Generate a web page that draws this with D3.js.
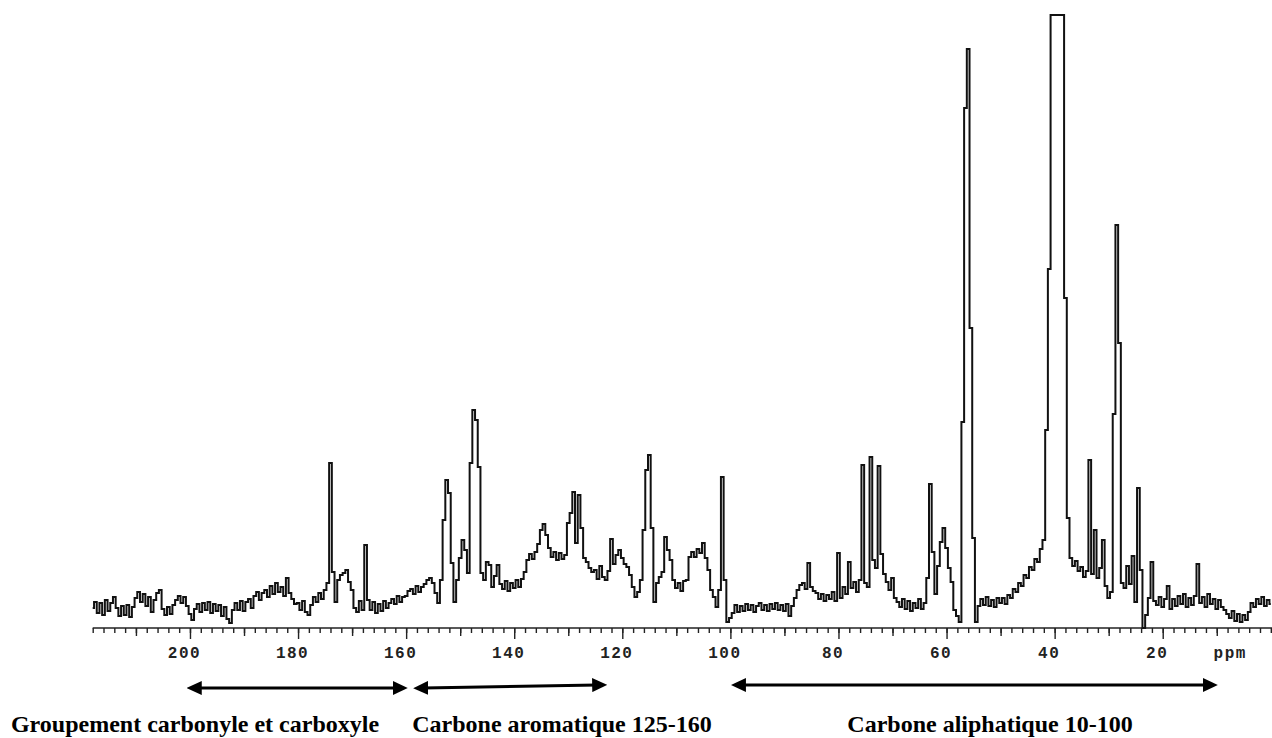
<!DOCTYPE html>
<html>
<head>
<meta charset="utf-8">
<script src="https://cdn.jsdelivr.net/npm/d3@7"></script>
<style>
body { margin: 0; background: #fff; }
svg { display: block; }
</style>
</head>
<body>
<div id="chartArea"></div>
<script>
var w = 1272, h = 738;

// 13C spectrum, one reading every 0.5 ppm, intensity in arbitrary units
// each block starts at the ppm given in blockStarts
var ppmStep = 0.5;
var blockStarts = [218, 200, 180, 160, 140, 120, 100, 80, 60, 40, 20];

var signal218 = [20, 26, 15, 25, 13, 28, 17, 25, 31, 20,
    12, 22, 13, 23, 11, 21, 30, 36, 26, 34,
    22, 31, 16, 28, 35, 38, 19, 13, 21, 14,
    23, 28, 32, 25, 31, 22];
var signal200 = [14, 8, 19, 24, 16, 25, 18, 26, 15, 24,
    17, 23, 12, 21, 9, 5, 18, 25, 18, 27,
    17, 26, 29, 20, 32, 36, 28, 35, 38, 31,
    42, 34, 45, 36, 41, 32, 50, 35, 29, 24];
var signal180 = [25, 18, 27, 16, 13, 23, 31, 26, 35, 29,
    38, 45, 165, 56, 26, 48, 53, 55, 58, 46,
    38, 20, 16, 27, 18, 83, 28, 18, 26, 15,
    24, 17, 27, 20, 25, 29, 24, 32, 26, 31];
var signal160 = [32, 37, 39, 34, 42, 36, 41, 44, 48, 50,
    45, 35, 25, 48, 108, 148, 135, 65, 26, 48,
    70, 88, 78, 55, 165, 218, 208, 161, 55, 48,
    66, 63, 41, 52, 63, 44, 39, 47, 37, 45];
var signal140 = [40, 48, 41, 49, 56, 68, 74, 69, 76, 84,
    98, 104, 93, 80, 71, 76, 68, 75, 69, 73,
    105, 115, 136, 85, 133, 100, 70, 66, 60, 56,
    58, 49, 62, 51, 48, 57, 89, 64, 73, 78];
var signal120 = [70, 64, 61, 53, 41, 31, 36, 48, 98, 158,
    173, 100, 26, 45, 51, 56, 91, 78, 68, 48,
    40, 45, 37, 47, 48, 71, 76, 71, 79, 75,
    85, 70, 58, 38, 31, 21, 38, 151, 48, 6];
var signal100 = [10, 15, 23, 16, 22, 17, 24, 18, 23, 16,
    22, 25, 18, 23, 17, 24, 19, 25, 18, 23,
    17, 24, 12, 22, 30, 38, 43, 45, 39, 65,
    41, 37, 35, 29, 34, 27, 33, 29, 36, 27];
var signal80 = [75, 30, 41, 34, 66, 40, 46, 36, 48, 163,
    45, 41, 171, 68, 60, 162, 74, 54, 46, 38,
    50, 30, 26, 21, 29, 19, 27, 17, 25, 20,
    29, 19, 25, 50, 144, 76, 34, 62, 86, 100];
var signal60 = [80, 60, 46, 18, 12, 6, 206, 520, 579, 300,
    90, 6, 22, 29, 23, 31, 22, 28, 21, 30,
    25, 30, 24, 33, 30, 39, 36, 45, 42, 53,
    50, 61, 58, 69, 66, 79, 88, 198, 359, 613];
var signal40 = [613, 613, 613, 613, 330, 110, 70, 62, 67, 57,
    61, 51, 57, 168, 54, 98, 50, 60, 88, 42,
    30, 36, 214, 403, 285, 45, 40, 62, 44, 72,
    26, 140, 58, 0, 13, 30, 66, 27, 23, 31];
var signal20 = [21, 29, 42, 19, 29, 22, 32, 24, 34, 21,
    30, 23, 32, 64, 25, 31, 21, 34, 24, 29,
    19, 28, 21, 18, 14, 10, 17, 7, 14, 6,
    13, 8, 16, 25, 21, 29, 24, 31, 22, 28,
    24];

var tickLabels = [200, 180, 160, 140, 120, 100, 80, 60, 40, 20];
var midTicks = [210, 190, 170, 150, 130, 110, 90, 70, 50, 30, 10];

// shift ranges of the three carbon families (ppm at arrow tips)
var regionNames = ['Groupement carbonyle et carboxyle', 'Carbone aromatique 125-160', 'Carbone aliphatique 10-100'];
var regionFrom = [200.6, 158.7, 99.9];
var regionTo = [159.7, 122.8, 9.8];

var blocks = [signal218, signal200, signal180, signal160, signal140, signal120,
    signal100, signal80, signal60, signal40, signal20];

var spectrum = [];
blocks.forEach(function (vals, b) {
    vals.forEach(function (v, i) {
        spectrum.push({ppm: blockStarts[b] - i * ppmStep, value: v});
    });
});

var svg = d3.select('#chartArea').append('svg')
    .attr('width', w)
    .attr('height', h);

var xScale = d3.scaleLinear()
    .domain([218, 0])
    .range([92.7, 1270.8]);

var yScale = d3.scaleLinear()
    .domain([0, 613])
    .range([628, 15]);

var axisY = 628;

// minor ticks every 2 ppm, carries the axis line
var minorTicks = d3.range(218, -1, -2);
svg.append('g')
    .attr('transform', 'translate(0,' + axisY + ')')
    .call(d3.axisBottom(xScale).tickValues(minorTicks).tickSize(5).tickSizeOuter(0).tickFormat(''))
    .call(function (g) {
        g.select('.domain').attr('stroke', '#222').attr('stroke-width', 1.6)
            .attr('d', 'M92.7,0H1272');
    });

svg.append('g')
    .attr('transform', 'translate(0,' + axisY + ')')
    .call(d3.axisBottom(xScale).tickValues(midTicks).tickSize(8).tickFormat(''))
    .call(function (g) { g.select('.domain').remove(); });

var major = svg.append('g')
    .attr('transform', 'translate(0,' + axisY + ')')
    .call(d3.axisBottom(xScale).tickValues(tickLabels).tickSize(11))
    .call(function (g) { g.select('.domain').remove(); });

svg.selectAll('.tick line').attr('stroke', '#222').attr('stroke-width', 1.4);

major.selectAll('text')
    .attr('x', -6)
    .attr('y', 30)
    .attr('dy', null)
    .attr('fill', '#222')
    .style('font-family', '"Liberation Mono", "Courier New", monospace')
    .style('font-size', '16px')
    .style('font-weight', 'bold')
    .style('letter-spacing', '1.5px');

svg.append('text')
    .attr('x', xScale(7.5))
    .attr('y', axisY + 30)
    .attr('text-anchor', 'middle')
    .attr('fill', '#222')
    .style('font-family', '"Liberation Mono", "Courier New", monospace')
    .style('font-size', '16px')
    .style('font-weight', 'bold')
    .style('letter-spacing', '1.5px')
    .text('ppm');

// spectrum trace
var line = d3.line()
    .x(function (d) { return xScale(d.ppm); })
    .y(function (d) { return yScale(d.value); })
    .curve(d3.curveStep);

svg.append('path')
    .datum(spectrum)
    .attr('d', line)
    .attr('fill', 'none')
    .attr('stroke', '#111')
    .attr('stroke-width', 2)
    .attr('stroke-linejoin', 'miter');

// double arrows under the axis
svg.append('defs').append('marker')
    .attr('id', 'head')
    .attr('viewBox', '0 0 15 14')
    .attr('refX', 5)
    .attr('refY', 7)
    .attr('markerWidth', 15)
    .attr('markerHeight', 14)
    .attr('markerUnits', 'userSpaceOnUse')
    .attr('orient', 'auto-start-reverse')
    .append('path')
    .attr('d', 'M0,0L15,7L0,14Z')
    .attr('fill', '#000');

var arrowLeftY = [688, 688, 685];
var arrowRightY = [688, 685, 685];
var labelCenters = [195, 562, 990];

svg.selectAll('.region-arrow')
    .data(regionNames)
    .enter()
    .append('line')
    .attr('class', 'region-arrow')
    .attr('x1', function (d, i) { return xScale(regionFrom[i]) + 10; })
    .attr('x2', function (d, i) { return xScale(regionTo[i]) - 10; })
    .attr('y1', function (d, i) { return arrowLeftY[i]; })
    .attr('y2', function (d, i) { return arrowRightY[i]; })
    .attr('stroke', '#000')
    .attr('stroke-width', 3)
    .attr('marker-start', 'url(#head)')
    .attr('marker-end', 'url(#head)');

svg.selectAll('.region-label')
    .data(regionNames)
    .enter()
    .append('text')
    .attr('class', 'region-label')
    .attr('x', function (d, i) { return labelCenters[i]; })
    .attr('y', 732)
    .attr('text-anchor', 'middle')
    .style('font-family', '"Liberation Serif", "Times New Roman", serif')
    .style('font-size', '24px')
    .style('font-weight', 'bold')
    .text(function (d) { return d; });
</script>
</body>
</html>
